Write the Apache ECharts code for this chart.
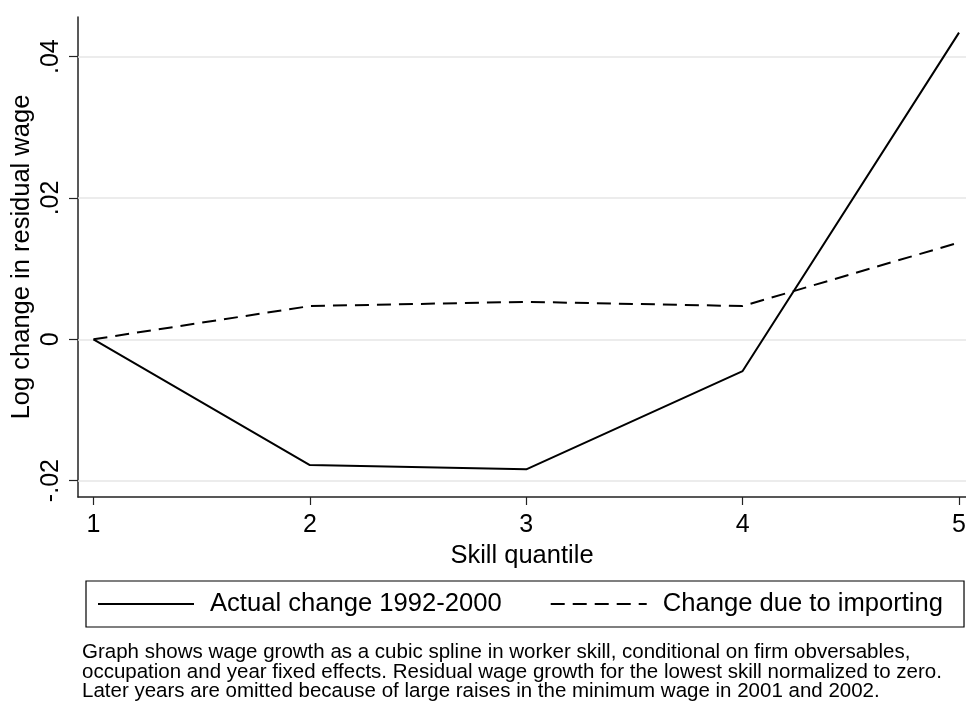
<!DOCTYPE html>
<html>
<head>
<meta charset="utf-8">
<script src="https://cdn.jsdelivr.net/npm/echarts@6/dist/echarts.min.js"></script>
<style>
html,body{margin:0;padding:0;background:#fff;}
#chart{width:966px;height:702px;}
</style>
</head>
<body>
<div id="chart"></div>
<script>
const skillQuantiles = [1, 2, 3, 4, 5];
const actualChange = [0, -0.0178, -0.0184, -0.0045, 0.0434];
const importingChange = [0, 0.0047, 0.0053, 0.0047, 0.0137];
const yTicks = [-0.02, 0, 0.02, 0.04];
const yTickLabels = ['-.02', '0', '.02', '.04'];
const xTicks = [1, 2, 3, 4, 5];
const seriesNames = ['Actual change 1992-2000', 'Change due to importing'];
const noteLines = [
  'Graph shows wage growth as a cubic spline in worker skill, conditional on firm obversables,',
  'occupation and year fixed effects. Residual wage growth for the lowest skill normalized to zero.',
  'Later years are omitted because of large raises in the minimum wage in 2001 and 2002.'
];

const FONT = '"Liberation Sans", Arial, Helvetica, sans-serif';
const chart = echarts.init(document.getElementById('chart'), null, {renderer: 'canvas'});

const pairs = (ys) => skillQuantiles.map((x, i) => [x, ys[i]]);

chart.setOption({
  backgroundColor: '#ffffff',
  animation: false,
  textStyle: {fontFamily: FONT, color: '#000'},
  grid: {left: 78, top: 17, right: 0, bottom: 205, containLabel: false, outerBoundsMode: 'none'},
  title: {
    text: noteLines.join('\n'),
    left: 82,
    top: 643,
    padding: 0,
    textStyle: {fontFamily: FONT, fontSize: 20.5, lineHeight: 19.5, fontWeight: 'normal', color: '#000'}
  },
  legend: {
    left: 86,
    top: 581,
    width: 940,
    orient: 'horizontal',
    padding: [10, 21, 10, 11],
    itemWidth: 96,
    itemHeight: 14,
    itemGap: 48,
    borderColor: '#000',
    borderWidth: 1.2,
    itemStyle: {opacity: 0},
    data: seriesNames,
    textStyle: {fontFamily: FONT, fontSize: 25.6, color: '#000', padding: [0, 0, 0, 11]}
  },
  xAxis: {
    type: 'value',
    min: 0.9284,
    max: 5.0323,
    name: 'Skill quantile',
    nameLocation: 'middle',
    nameGap: 43,
    nameTextStyle: {fontFamily: FONT, fontSize: 25.5, color: '#000'},
    axisLine: {show: true, onZero: false, lineStyle: {color: '#222', width: 1.5}},
    axisTick: {show: true, length: 8, lineStyle: {color: '#222', width: 1.2}, customValues: xTicks},
    axisLabel: {fontFamily: FONT, fontSize: 25, color: '#000', margin: 16, customValues: xTicks,
      hideOverlap: false, formatter: (v) => String(v)},
    splitLine: {show: false}
  },
  yAxis: {
    type: 'value',
    min: -0.02232,
    max: 0.04561,
    name: 'Log change in residual wage',
    nameLocation: 'middle',
    nameGap: 43,
    nameMoveOverlap: false,
    nameRotate: 90,
    nameTextStyle: {fontFamily: FONT, fontSize: 25.5, color: '#000'},
    axisLine: {show: true, onZero: false, lineStyle: {color: '#222', width: 1.5}},
    axisTick: {show: true, length: 9, lineStyle: {color: '#222', width: 1.2}, customValues: yTicks},
    axisLabel: {fontFamily: FONT, fontSize: 25, color: '#000', rotate: 90, margin: 14, customValues: yTicks,
      formatter: (v) => {
        const i = yTicks.findIndex(t => Math.abs(t - v) < 1e-9);
        return i >= 0 ? yTickLabels[i] : '';
      }},
    splitLine: {show: false}
  },
  series: [
    {
      name: seriesNames[0],
      type: 'line',
      data: pairs(actualChange),
      symbol: 'none',
      clip: false,
      lineStyle: {color: '#000', width: 2, type: 'solid'},
      itemStyle: {color: '#000'},
      z: 3,
      markLine: {
        silent: true,
        symbol: 'none',
        label: {show: false},
        lineStyle: {color: '#e6e6e6', width: 1.5, type: 'solid'},
        data: yTicks.map(v => ({yAxis: v})),
        z: 1
      }
    },
    {
      name: seriesNames[1],
      type: 'line',
      data: pairs(importingChange),
      symbol: 'none',
      clip: false,
      lineStyle: {color: '#000', width: 2, type: [14, 8]},
      itemStyle: {color: '#000'},
      z: 3
    }
  ]
});
</script>
</body>
</html>
